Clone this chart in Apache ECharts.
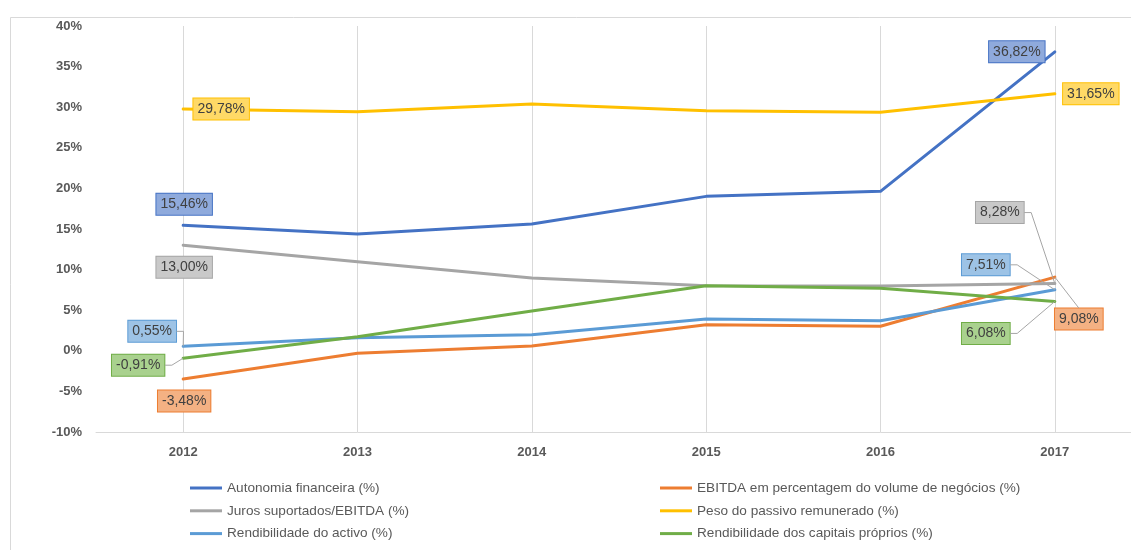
<!DOCTYPE html>
<html>
<head>
<meta charset="utf-8">
<script src="https://cdn.jsdelivr.net/npm/echarts@6/dist/echarts.min.js"></script>
<style>html,body{margin:0;padding:0;background:#fff;overflow:hidden;width:1131px;height:550px}#c{width:1142px;height:550px}</style>
</head>
<body>
<div id="c"></div>
<script>
const categories = ['2012', '2013', '2014', '2015', '2016', '2017'];
const autonomia = [15.46, 14.38, 15.62, 19.02, 19.64, 36.82];
const ebitda = [-3.48, -0.31, 0.59, 3.21, 3.02, 9.08];
const juros = [13.00, 10.97, 8.97, 8.02, 7.98, 8.28];
const peso = [29.78, 29.45, 30.39, 29.57, 29.37, 31.65];
const rActivo = [0.55, 1.61, 1.98, 3.92, 3.71, 7.51];
const rCapitais = [-0.91, 1.74, 4.90, 8.02, 7.70, 6.08];
const yMin = -10, yMax = 40, yStep = 5;

const names = [
  'Autonomia financeira (%)',
  'EBITDA em percentagem do volume de negócios (%)',
  'Juros suportados/EBITDA (%)',
  'Peso do passivo remunerado (%)',
  'Rendibilidade do activo (%)',
  'Rendibilidade dos capitais próprios (%)'
];
const values = [autonomia, ebitda, juros, peso, rActivo, rCapitais];

// styling config (colors, label offsets, leader line mode)
const lineColors = ['#4472C4', '#ED7D31', '#A5A5A5', '#FFC000', '#5B9BD5', '#70AD47'];
const boxColors = ['#8FAADC', '#F4B183', '#C9C9C9', '#FFD966', '#9DC3E6', '#A9D18E'];
const labelOffsets = [
  [{dx: 1, dy: -21, line: ''}, {dx: -38, dy: 0, line: ''}],
  [{dx: 1, dy: 22, line: ''}, {dx: 24, dy: 42, line: 'top'}],
  [{dx: 1, dy: 22, line: ''}, {dx: -55, dy: -71, line: 'right'}],
  [{dx: 38, dy: 0, line: ''}, {dx: 36, dy: 0, line: ''}],
  [{dx: -31, dy: -15, line: 'right'}, {dx: -69, dy: -25, line: 'right'}],
  [{dx: -45, dy: 7, line: 'right'}, {dx: -69, dy: 32, line: 'right'}]
];
const labelFont = {size: 14, family: 'Liberation Sans, Arial, sans-serif', pad: [4, 4, 3, 4]};

function fmt(v) { return v.toFixed(2).replace('.', ',') + '%'; }

const series = values.map((arr, si) => ({
  name: names[si],
  type: 'line',
  z: 3,
  symbol: 'circle',
  symbolSize: 0,
  showSymbol: true,
  lineStyle: {width: 3, color: lineColors[si], cap: 'round', join: 'round'},
  itemStyle: {color: lineColors[si]},
  emphasis: {disabled: true},
  label: {show: false},
  labelLayout: function (p) {
    const last = p.dataIndex === arr.length - 1;
    const o = labelOffsets[si][last ? 1 : 0];
    return {dx: o.dx, dy: o.dy};
  },
  data: arr.map((v, i) => {
    if (i === 0 || i === arr.length - 1) {
      return {
        value: v,
        label: {
          show: true,
          position: 'inside',
          formatter: () => fmt(v),
          color: '#404040',
          fontSize: labelFont.size,
          fontFamily: labelFont.family,
          backgroundColor: boxColors[si],
          borderColor: lineColors[si],
          borderWidth: 1,
          padding: labelFont.pad
        }
      };
    }
    return v;
  })
}));

// vertical gridlines at category centers
series.push({
  name: '__grid',
  type: 'line',
  z: 1,
  data: categories.map(() => null),
  symbol: 'none',
  markLine: {
    silent: true,
    z: 1,
    symbol: ['none', 'none'],
    label: {show: false},
    animation: false,
    lineStyle: {color: '#D9D9D9', width: 1, type: 'solid'},
    emphasis: {disabled: true},
    data: categories.map(c => ({xAxis: c}))
  }
});

const legendText = {color: '#595959', fontSize: 13.6, fontFamily: 'Liberation Sans, Arial, sans-serif', lineHeight: 16};

const frame = {
  type: 'rect', left: 8, top: 15, z: -10, silent: true,
  shape: {width: 1140, height: 545},
  style: {fill: 'none', stroke: '#D9D9D9', lineWidth: 1}
};

const option = {
  animation: false,
  backgroundColor: '#fff',
  graphic: [frame],
  grid: {left: 96, top: 26, right: 0, bottom: 118, containLabel: false},
  xAxis: {
    type: 'category',
    data: categories,
    boundaryGap: true,
    axisLine: {onZero: false, lineStyle: {color: '#D9D9D9', width: 1}},
    axisTick: {show: false},
    axisLabel: {color: '#595959', fontSize: 13, fontWeight: 'bold', margin: 14, fontFamily: 'Liberation Sans, Arial, sans-serif'},
    splitLine: {show: false}
  },
  yAxis: {
    type: 'value',
    min: yMin, max: yMax, interval: yStep,
    axisLine: {show: false},
    axisTick: {show: false},
    splitLine: {show: false},
    axisLabel: {color: '#595959', fontSize: 13, fontWeight: 'bold', margin: 14, formatter: v => v + '%', fontFamily: 'Liberation Sans, Arial, sans-serif'}
  },
  legend: [
    {
      orient: 'vertical', left: 190, top: 480, padding: 0,
      data: [names[0], names[2], names[4]],
      icon: 'rect', itemWidth: 32, itemHeight: 3, itemGap: 6.8,
      textStyle: legendText, selectedMode: false
    },
    {
      orient: 'vertical', left: 660, top: 480, padding: 0,
      data: [names[1], names[3], names[5]],
      icon: 'rect', itemWidth: 32, itemHeight: 3, itemGap: 6.8,
      textStyle: legendText, selectedMode: false
    }
  ],
  series: series
};

const chart = echarts.init(document.getElementById('c'), null, {renderer: 'canvas'});
chart.setOption(option);

// leader lines computed from the data points through the chart's scales
const ctx = document.createElement('canvas').getContext('2d');
ctx.font = labelFont.size + 'px ' + labelFont.family;
const leaders = [];
values.forEach((arr, si) => {
  [0, arr.length - 1].forEach((i, k) => {
    const o = labelOffsets[si][k];
    if (!o.line) return;
    const pt = chart.convertToPixel({seriesIndex: si}, [i, arr[i]]);
    const w = ctx.measureText(fmt(arr[i])).width + labelFont.pad[1] + labelFont.pad[3] + 1;
    const h = labelFont.size + labelFont.pad[0] + labelFont.pad[2] + 1;
    const cx = pt[0] + o.dx, cy = pt[1] + o.dy;
    let pts;
    if (o.line === 'right') {
      const sx = cx + w / 2;
      pts = [[sx, cy], [sx + 7, cy], pt];
    } else {
      pts = [[cx, cy - h / 2], pt];
    }
    leaders.push({
      type: 'polyline', silent: true, z: 4,
      shape: {points: pts},
      style: {stroke: '#A6A6A6', lineWidth: 1, fill: null}
    });
  });
});
chart.setOption({graphic: [frame].concat(leaders)}, {replaceMerge: ['graphic']});
</script>
</body>
</html>
